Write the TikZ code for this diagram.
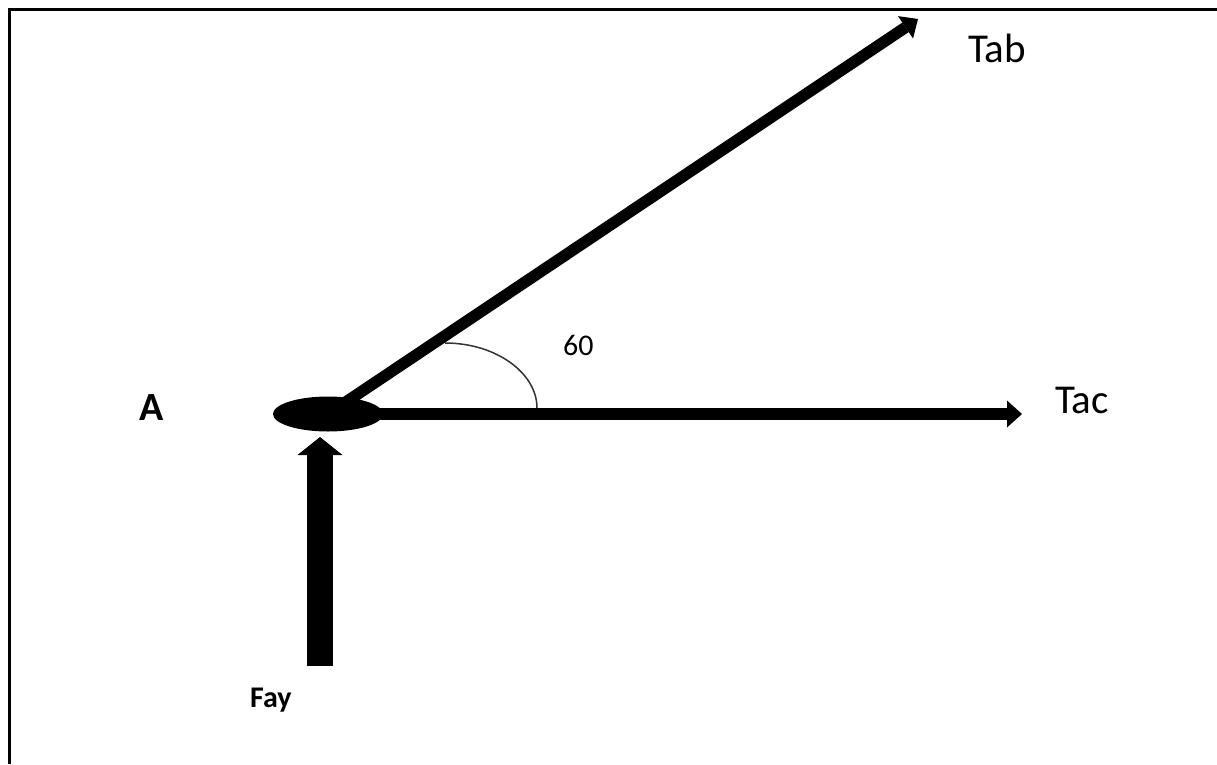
\documentclass[tikz,border=0pt]{standalone}
\usepackage{fontspec}
\setmainfont{Carlito}
\usetikzlibrary{arrows.meta,shapes.geometric}

\begin{document}
\begin{tikzpicture}[x=1pt, y=-1pt,
    force/.style={line width=11.5pt, -{Triangle[width=27pt,length=15pt,line width=0pt]}},
    reaction/.style={line width=26pt, -{Triangle[width=45pt,length=18pt,line width=0pt]}},
    lbl/.style={font=\fontsize{41}{41}\selectfont, inner sep=0pt, anchor=base west},
    anglbl/.style={font=\fontsize{30}{30}\selectfont, inner sep=0pt, anchor=base west},
    ptlbl/.style={font=\bfseries\fontsize{40}{40}\selectfont, inner sep=0pt, anchor=base west},
    smlbl/.style={font=\bfseries\fontsize{30}{30}\selectfont, inner sep=0pt, anchor=base west}
]
    \fill[white] (0,0) rectangle (1217,764);
    \useasboundingbox (0,0) rectangle (1217,764);
    \draw[line width=3pt] (9,764) |- (1217,9);

    % joint A
    \node[ellipse, fill=black, minimum width=110pt, minimum height=35pt, inner sep=0pt] (joint) at (328,414) {};
    \coordinate (tabtip) at (918,19);
    \coordinate (tactip) at (1022,414);
    \coordinate (faybase) at (320,666);
    \coordinate (faytip) at (320,437);

    \draw[force] (joint.center) -- (tabtip);
    \draw[force] (joint.center) -- (tactip);
    \draw[reaction] (faybase) -- (faytip);

    % angle mark
    \coordinate (arcstart) at (445,343);
    \coordinate (arcend) at (537,408);
    \draw[line width=1.5pt, black!80] (arcstart) .. controls (496,343) and (537,373) .. (arcend);

    \node[lbl] (tab) at (968,62) {Tab};
    \node[lbl] (tac) at (1055,413) {Tac};
    \node[anglbl] (ang) at (563,355) {60};
    \node[ptlbl] (pta) at (139,420) {A};
    \node[smlbl] (fay) at (250,707) {Fay};
\end{tikzpicture}
\end{document}
